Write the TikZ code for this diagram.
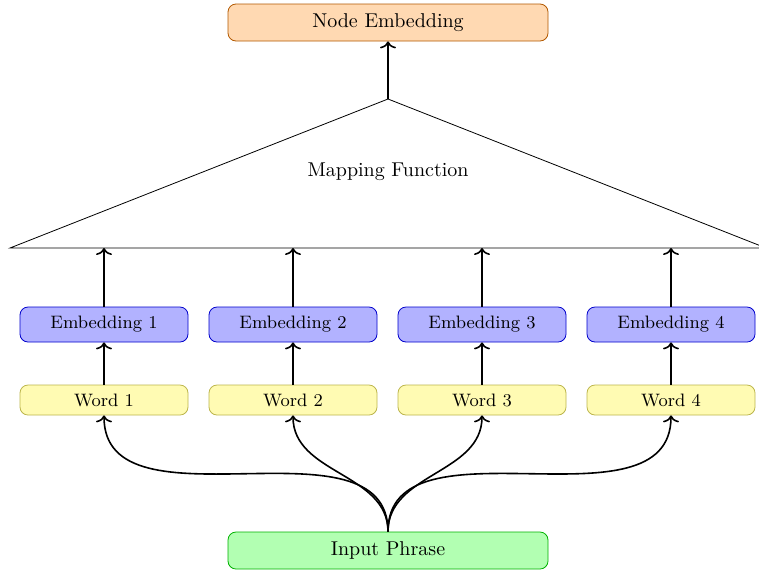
\documentclass[tikz,border=0pt]{standalone}
\usetikzlibrary{arrows.meta,positioning}
\tikzset{
box/.style={rounded corners=4pt,inner sep=0pt,align=center},
wordbox/.style={box,fill=yellow!30,draw=olive!60,minimum width=84pt,minimum height=15pt,font=\small},
embbox/.style={box,fill=blue!30,draw=blue!80!black,minimum width=84pt,minimum height=17.5pt,font=\small},
arr/.style={thick,-{To[length=3.5pt,width=8pt]}}
}
\begin{document}
\begin{tikzpicture}[x=0.5pt,y=-0.5pt]
\clip(0,0)rectangle(759,574);
%% top and bottom boxes
\node[box,fill=orange!30,draw=orange!70!black,minimum width=160pt,minimum height=18.5pt](nodeemb)at(388,22.5){Node Embedding};
\node[box,fill=green!30,draw=green!70!black,minimum width=160pt,minimum height=18.5pt](phrase)at(388,550.5){Input Phrase};
%% mapping function
\coordinate(apex)at(388,99);
\coordinate(baseL)at(10,248);
\coordinate(baseR)at(766,248);
\draw(baseL)--(apex)--(baseR)--cycle;
\node(map)at(388,172){Mapping Function};
\draw[arr](apex)--(nodeemb.south);
%% words and embeddings
\foreach \i/\x in{1/104,2/293,3/482,4/671}
{\node[embbox](emb\i)at(\x,324.5){Embedding \i};
\node[wordbox](word\i)at(\x,400){Word \i};
\draw[arr](word\i.north)--(emb\i.south);
\draw[arr](emb\i.north)--(emb\i.north|-baseL);
\draw[arr](phrase.north)to[out=90,in=-90](word\i.south);}
\end{tikzpicture}
\end{document}
